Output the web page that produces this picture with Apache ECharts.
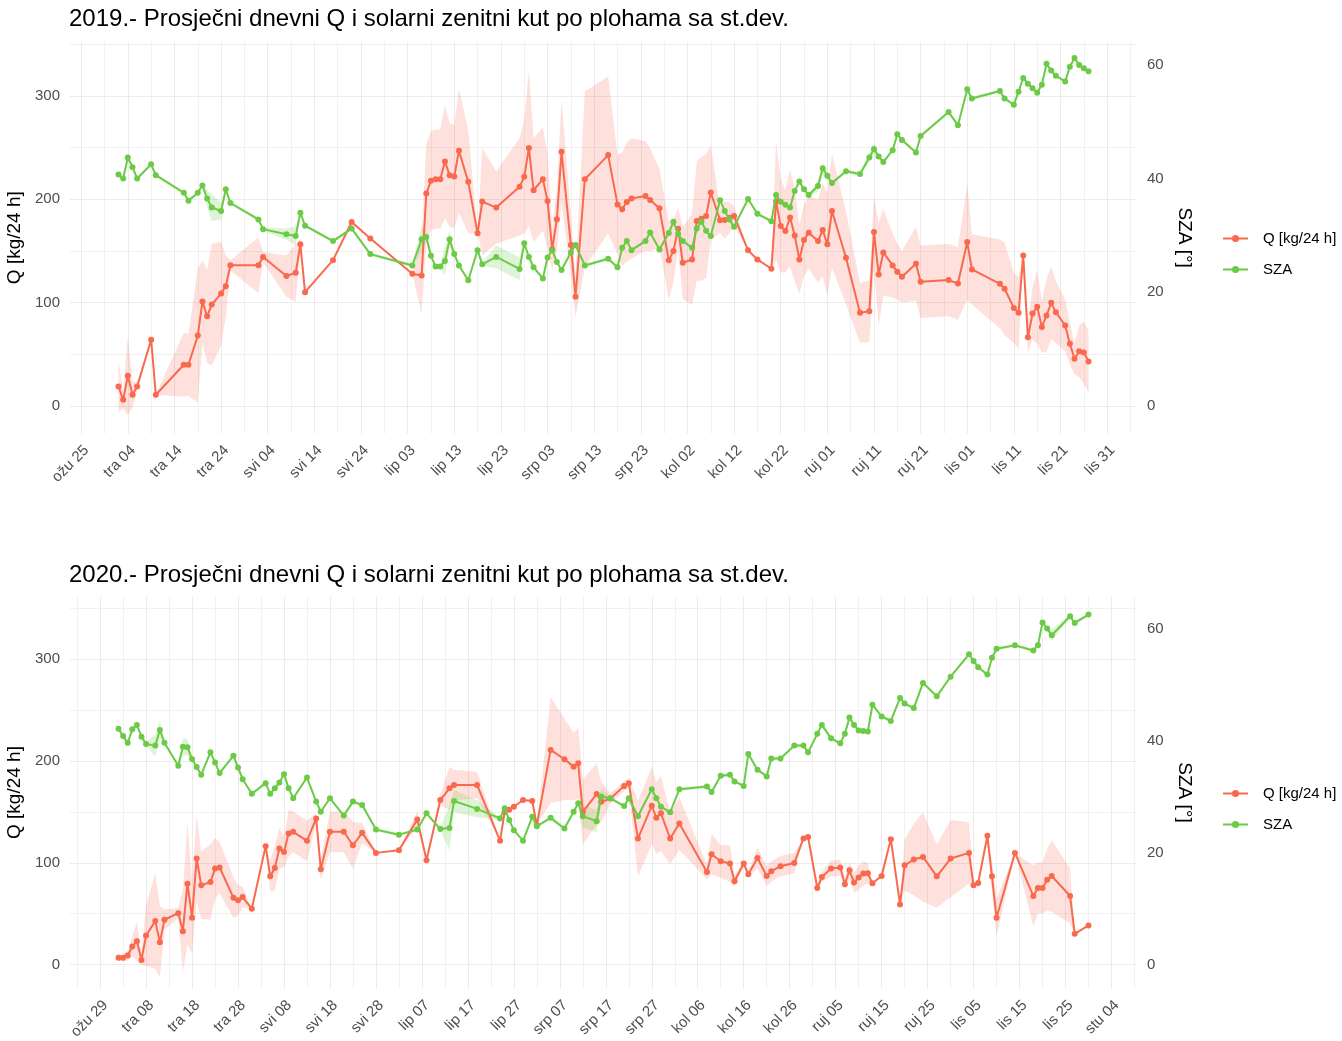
<!DOCTYPE html>
<html>
<head>
<meta charset="utf-8">
<title>Q i SZA po plohama</title>
<script src="https://cdn.jsdelivr.net/npm/echarts@6/dist/echarts.min.js"></script>
<style>
  html, body { margin: 0; padding: 0; background: #fff; }
  #chart { width: 1342px; height: 1041px; }
</style>
</head>
<body>
<div id="chart"></div>
<script>
// ---- 2019 (dates are MM-DD) ----
const dates2019 = ['04-02','04-03','04-04','04-05','04-06','04-09','04-10','04-16','04-17','04-19',
  '04-20','04-21','04-22','04-24','04-25','04-26','05-02','05-03','05-08','05-10',
  '05-11','05-12','05-18','05-22','05-26','06-04','06-06','06-07','06-08','06-09',
  '06-10','06-11','06-12','06-13','06-14','06-16','06-18','06-19','06-22','06-27',
  '06-28','06-29','06-30','07-02','07-03','07-04','07-05','07-06','07-08','07-09',
  '07-11','07-16','07-18','07-19','07-20','07-21','07-24','07-25','07-27','07-29',
  '07-30','07-31','08-01','08-03','08-04','08-05','08-06','08-07','08-09','08-10',
  '08-11','08-12','08-15','08-17','08-20','08-21','08-22','08-23','08-24','08-25',
  '08-26','08-27','08-28','08-30','08-31','09-01','09-02','09-05','09-08','09-10',
  '09-11','09-12','09-13','09-15','09-16','09-17','09-20','09-21','09-27','09-29',
  '10-01','10-02','10-08','10-09','10-11','10-12','10-13','10-14','10-15','10-16',
  '10-17','10-18','10-19','10-20','10-22','10-23','10-24','10-25','10-26','10-27']
const q2019 = [18.7, 5.8, 29, 10.7, 18.7, 64, 10.7, 39.8, 39.8, 68,
  101, 86.7, 98, 108.7, 115.8, 136, 136, 144, 125.6, 128.8,
  156.3, 110, 141, 178, 162, 127.8, 126.2, 205.5, 217.8, 219.4,
  219.4, 236.6, 223.3, 222, 247, 216.8, 167, 197.7, 191.9, 212,
  221.7, 249.5, 208.7, 219.4, 198.4, 151.5, 180.6, 246, 155.6, 105.5,
  219.4, 242.7, 195, 190.3, 197.4, 200.7, 203.2, 199.3, 191.3, 140.8,
  149.8, 171.5, 138.5, 141.7, 179, 181, 183.8, 206.5, 179.6, 180,
  182, 183.8, 150.5, 141.7, 132.7, 197.8, 174, 169.2, 182.2, 165,
  141.7, 160.5, 167.6, 159.5, 170.2, 156.3, 188.6, 143.4, 90, 91.6,
  168.3, 127.2, 148.5, 135.9, 129.8, 124.9, 137.6, 120.1, 121.7, 118.4,
  158.5, 132, 118.1, 113.3, 94.8, 90, 145.6, 66.3, 89.3, 95.8,
  76.4, 87.4, 99.7, 90.6, 77.7, 60.2, 45.6, 52.7, 51.7, 43]
const qSd2019 = [25, 8, 38, 12, 5, 0, 0, 31, 30, 65,
  40, 45, 59, 50, 30, 5, 27, 5, 20, 28,
  5, 0, 0, 0, 0, 0, 37, 48, 48, 48,
  48, 55, 50, 50, 60, 50, 0, 52, 35, 47,
  55, 75, 50, 50, 45, 20, 30, 50, 30, 20,
  85, 76, 48, 55, 58, 58, 53, 50, 38, 38,
  30, 20, 35, 44, 58, 60, 60, 46, 12, 18,
  15, 10, 0, 0, 0, 57, 45, 40, 47, 45,
  33, 35, 35, 40, 45, 50, 55, 45, 29, 30,
  35, 50, 42, 31, 27, 25, 36, 35, 35, 35,
  56, 34, 43, 45, 34, 35, 5, 15, 25, 36,
  25, 35, 35, 30, 25, 20, 15, 25, 30, 30]
const sza2019 = [40.7, 40.0, 43.7, 42.0, 40.0, 42.5, 40.6, 37.5, 36.1, 37.5,
  38.8, 36.5, 34.9, 34.3, 38.1, 35.7, 32.8, 31.1, 30.2, 29.9,
  34.0, 31.7, 29.0, 31.2, 26.7, 24.7, 29.3, 29.7, 26.4, 24.5,
  24.5, 25.5, 29.3, 26.7, 24.7, 22.1, 27.4, 24.9, 26.2, 24.1,
  28.6, 26.2, 24.4, 22.4, 26.1, 27.4, 25.3, 23.9, 27.0, 28.3,
  24.7, 25.9, 24.4, 27.8, 29.0, 27.4, 29.0, 30.5, 27.5, 30.4,
  32.4, 30.3, 29.0, 27.8, 31.2, 32.4, 30.8, 29.9, 36.2, 34.3,
  32.8, 31.5, 36.4, 33.8, 32.5, 37.1, 35.9, 35.4, 34.9, 37.8,
  39.5, 38.1, 37.1, 38.7, 41.8, 40.5, 39.2, 41.3, 40.8, 43.7,
  45.2, 43.9, 42.9, 45.0, 47.8, 46.8, 44.6, 47.5, 51.7, 49.4,
  55.7, 54.1, 55.4, 54.1, 53.0, 55.3, 57.7, 56.7, 55.9, 55.1,
  56.5, 60.2, 59.0, 58.1, 57.1, 59.7, 61.2, 60.0, 59.4, 58.9]
const szaSd2019 = [0.3, 0.3, 0.3, 0.3, 0.3, 0.3, 0.3, 0.3, 0.3, 0.3,
  0.3, 1.5, 2.4, 1.5, 0.3, 0.3, 0.3, 0.3, 1.0, 1.6,
  0.3, 0.3, 0.3, 0.3, 0.3, 0.3, 2.3, 1.0, 0.3, 0.3,
  0.3, 2.5, 1.5, 0.3, 0.3, 0.3, 0.3, 0.3, 2.0, 2.0,
  0.3, 0.3, 0.3, 0.3, 0.3, 0.3, 0.3, 0.3, 0.3, 0.3,
  0.3, 0.3, 0.3, 0.3, 0.3, 0.3, 0.3, 0.3, 0.3, 0.3,
  0.3, 0.3, 0.3, 0.3, 0.3, 0.3, 0.3, 0.3, 0.3, 0.3,
  0.3, 0.3, 0.3, 0.3, 0.3, 0.3, 0.3, 0.3, 0.3, 0.3,
  0.3, 0.3, 0.3, 1.0, 1.0, 0.8, 0.3, 0.3, 0.3, 0.8,
  0.8, 0.3, 0.3, 0.3, 0.3, 0.3, 0.3, 0.3, 0.3, 0.3,
  0.3, 0.3, 0.3, 0.3, 0.3, 0.3, 0.3, 0.3, 0.3, 0.3,
  0.3, 0.3, 0.3, 0.3, 0.3, 0.3, 0.3, 0.3, 0.3, 0.3]

// ---- 2020 ----
const dates2020 = ['04-02','04-03','04-04','04-05','04-06','04-07','04-08','04-10','04-11','04-12',
  '04-15','04-16','04-17','04-18','04-19','04-20','04-22','04-23','04-24','04-27',
  '04-28','04-29','05-01','05-04','05-05','05-06','05-07','05-08','05-09','05-10',
  '05-13','05-15','05-16','05-18','05-21','05-23','05-25','05-28','06-02','06-06',
  '06-08','06-11','06-13','06-14','06-19','06-24','06-25','06-26','06-27','06-29',
  '07-01','07-02','07-05','07-08','07-10','07-11','07-12','07-15','07-16','07-18',
  '07-21','07-22','07-24','07-27','07-28','07-29','07-31','08-02','08-08','08-09',
  '08-11','08-13','08-14','08-16','08-17','08-19','08-21','08-22','08-24','08-27',
  '08-29','08-30','09-01','09-02','09-04','09-06','09-07','09-08','09-09','09-10',
  '09-11','09-12','09-13','09-15','09-17','09-19','09-20','09-22','09-24','09-27',
  '09-30','10-04','10-05','10-06','10-08','10-09','10-10','10-14','10-18','10-19',
  '10-20','10-21','10-22','10-26','10-27','10-30']
const q2020 = [6.6, 6.6, 8.9, 17.7, 23, 4.6, 28.6, 42.7, 22, 44,
  50.5, 32.8, 79.5, 46, 104.1, 77.8, 81.1, 94.3, 95.3, 65.7,
  63.1, 66.3, 54.9, 116.3, 86.7, 94.9, 114, 110.6, 128.8, 130.4,
  121.5, 143.5, 93.6, 130.4, 130.4, 117.2, 129.4, 109.7, 112.3, 142.6,
  102.5, 161.6, 173.1, 176.4, 176.4, 121.5, 150, 152, 155, 161.6,
  160.6, 137, 210.8, 201.7, 194.4, 197.7, 150, 167.5, 159.9, 163,
  175.4, 178, 123.8, 156, 144.2, 148.5, 123.8, 138.6, 90.9, 108.4,
  101.5, 99.2, 81.8, 99.2, 88.7, 104.7, 87, 91.6, 96.6, 99.8,
  123.8, 125.4, 75.2, 86, 94.3, 95.3, 78.8, 92.6, 80.5, 85.4,
  89.4, 89.6, 79.8, 87, 123.2, 59.1, 97.5, 103.2, 105.7, 86.7,
  104.1, 109.7, 77.8, 80.1, 126.4, 86.7, 46, 109.7, 67.3, 75.2,
  75.2, 83.4, 87, 67.3, 30.2, 38.4]
const qSd2020 = [3, 3, 5, 10, 19, 5, 30, 47, 35, 10,
  5, 40, 60, 35, 43, 33, 37, 30, 25, 20,
  15, 10, 0, 0, 15, 22, 20, 15, 23, 20,
  20, 5, 10, 20, 20, 23, 10, 0, 0, 8,
  0, 5, 21, 15, 13, 0, 0, 0, 0, 0,
  0, 0, 52, 40, 33, 35, 32, 30, 20, 5,
  5, 5, 37, 38, 35, 37, 25, 26, 7, 20,
  16, 18, 5, 3, 3, 10, 10, 10, 10, 10,
  0, 0, 0, 5, 8, 8, 5, 8, 10, 12,
  12, 10, 0, 0, 0, 0, 25, 35, 44, 31,
  38, 30, 0, 0, 5, 15, 19, 0, 30, 25,
  25, 30, 35, 27, 0, 0]
const sza2020 = [42.1, 40.8, 39.6, 42.0, 42.8, 40.7, 39.4, 39.1, 41.9, 39.6,
  35.5, 38.9, 38.8, 36.7, 35.3, 33.9, 37.9, 36.1, 34.2, 37.3,
  35.2, 33.1, 30.5, 32.4, 30.5, 31.5, 32.5, 34.0, 31.5, 29.7,
  33.4, 29.1, 27.3, 29.7, 26.6, 29.1, 28.5, 24.1, 23.2, 24.1,
  27.0, 24.2, 24.4, 29.2, 27.8, 26.1, 27.9, 25.8, 24.0, 22.1,
  26.4, 24.7, 26.2, 24.3, 27.3, 28.8, 26.5, 25.6, 30.0, 29.7,
  28.3, 29.7, 26.5, 31.3, 29.7, 28.2, 27.2, 31.3, 31.8, 30.8,
  33.7, 33.9, 32.7, 31.9, 37.6, 34.8, 33.6, 36.8, 36.8, 39.1,
  39.1, 37.9, 41.2, 42.8, 40.4, 39.5, 41.2, 44.1, 42.8, 41.8,
  41.7, 41.6, 46.4, 44.3, 43.5, 47.6, 46.6, 45.8, 50.3, 47.9,
  51.4, 55.4, 54.2, 53.1, 51.8, 54.8, 56.4, 57.0, 56.1, 57.0,
  61.1, 60.0, 58.8, 62.2, 61.0, 62.5]
const szaSd2020 = [0.3, 0.3, 0.3, 0.3, 0.3, 0.3, 0.3, 2.0, 1.5, 0.3,
  0.3, 1.5, 1.5, 0.3, 0.3, 0.3, 0.3, 0.3, 0.3, 0.3,
  0.3, 0.3, 0.3, 0.3, 0.3, 0.3, 0.3, 0.3, 0.3, 0.3,
  0.3, 0.3, 0.3, 0.3, 0.3, 0.3, 0.3, 0.3, 0.3, 0.3,
  0.3, 0.3, 4.0, 2.0, 1.5, 0.3, 0.3, 0.3, 0.3, 0.3,
  0.3, 0.3, 0.3, 0.3, 0.3, 0.3, 2.0, 2.0, 1.5, 0.3,
  0.3, 0.3, 0.3, 0.3, 0.3, 0.3, 0.3, 0.3, 0.3, 0.3,
  0.3, 0.3, 0.3, 0.3, 0.3, 0.3, 0.3, 0.3, 0.3, 0.3,
  0.3, 0.3, 0.3, 0.3, 0.3, 0.3, 0.3, 0.3, 0.3, 0.3,
  0.3, 0.3, 0.3, 0.3, 0.3, 0.3, 0.3, 0.3, 0.3, 0.3,
  0.3, 0.3, 0.3, 0.3, 0.3, 0.3, 0.3, 0.3, 0.3, 0.3,
  0.3, 0.3, 1.0, 0.3, 0.3, 0.3]

const monthsHr = ['sij', 'velj', 'ožu', 'tra', 'svi', 'lip', 'srp', 'kol', 'ruj', 'lis', 'stu', 'pro']
const DAY = 86400000
const FONT = '"Liberation Sans", Arial, sans-serif'
const RED = '#F8694E'
const GREEN = '#6CCB46'

const panels = [
  { title: '2019.- Prosječni dnevni Q i solarni zenitni kut po plohama sa st.dev.', year: 2019, base: '03-25',
    dates: dates2019, q: q2019, qSd: qSd2019, sza: sza2019, szaSd: szaSd2019,
    qRange: [-27, 352.5], factor: 5.5, top: 41.7, titleTop: 7, legendTop: 231 },
  { title: '2020.- Prosječni dnevni Q i solarni zenitni kut po plohama sa st.dev.', year: 2020, base: '03-29',
    dates: dates2020, q: q2020, qSd: qSd2020, sza: sza2020, szaSd: szaSd2020,
    qRange: [-23.5, 361.5], factor: 5.5, top: 596.5, titleTop: 563, legendTop: 786 }
]

function baseTime(p) {
  const [m, d] = p.base.split('-').map(Number)
  return Date.UTC(p.year, m - 1, d)
}
function toDays(p, md) {
  const [m, d] = md.split('-').map(Number)
  return (Date.UTC(p.year, m - 1, d) - baseTime(p)) / DAY
}
function dayLabel(p, v) {
  const dt = new Date(baseTime(p) + v * DAY)
  return monthsHr[dt.getUTCMonth()] + ' ' + String(dt.getUTCDate()).padStart(2, '0')
}

const grid = [], xAxis = [], yAxis = [], series = [], title = [], legend = []

panels.forEach((p, i) => {
  const xs = p.dates.map(d => toDays(p, d))
  // ggplot-like 5% expansion of the date range
  const span = xs[xs.length - 1] - xs[0]
  const xMin = xs[0] - span * 0.05
  const xMax = xs[xs.length - 1] + span * 0.05
  const firstTick = Math.ceil(xMin / 5) * 5
  const gridColors = firstTick % 10 === 0 ? ['#EBEBEB', '#F1F1F1'] : ['#F1F1F1', '#EBEBEB']

  grid.push({ left: 70, width: 1067, top: p.top, height: 392, outerBoundsMode: 'none', containLabel: false })

  title.push({
    text: p.title, left: 69, top: p.titleTop, padding: 0,
    textStyle: { fontSize: 24, fontWeight: 'normal', color: '#000', fontFamily: FONT }
  })

  legend.push({
    data: ['Q [kg/24 h]', 'SZA'], orient: 'vertical', left: 1222, top: p.legendTop, padding: 0,
    itemWidth: 25, itemHeight: 9, itemGap: 16, selectedMode: false,
    textStyle: { fontSize: 15, color: '#000', fontFamily: FONT, padding: [0, 0, 0, 10] }
  })

  xAxis.push({
    gridIndex: i, type: 'value', min: xMin, max: xMax, minInterval: 5, maxInterval: 5,
    axisLine: { show: false }, axisTick: { show: false },
    axisLabel: {
      rotate: 45, margin: 9, fontSize: 15, color: '#4D4D4D', fontFamily: FONT, verticalAlign: 'top',
      showMinLabel: false, showMaxLabel: false,
      formatter: v => (Math.abs(v % 10) < 1e-6 ? dayLabel(p, v) : '')
    },
    splitLine: { show: true, showMinLine: false, showMaxLine: false, lineStyle: { color: gridColors, width: 1 } }
  })

  yAxis.push({
    gridIndex: i, type: 'value', position: 'left', min: p.qRange[0], max: p.qRange[1],
    minInterval: 50, maxInterval: 50,
    name: 'Q [kg/24 h]', nameLocation: 'middle', nameRotate: 90, nameGap: 40,
    nameTextStyle: { fontSize: 19, color: '#000', fontFamily: FONT },
    axisLine: { show: false }, axisTick: { show: false },
    axisLabel: {
      margin: 10, fontSize: 15, color: '#4D4D4D', fontFamily: FONT,
      showMinLabel: false, showMaxLabel: false,
      formatter: v => (Math.abs(v % 100) < 1e-6 ? String(v) : '')
    },
    splitLine: { show: true, showMinLine: false, showMaxLine: false, lineStyle: { color: ['#EBEBEB', '#F1F1F1'], width: 1 } }
  })
  yAxis.push({
    gridIndex: i, type: 'value', position: 'right',
    min: p.qRange[0] / p.factor, max: p.qRange[1] / p.factor, minInterval: 20, maxInterval: 20,
    name: 'SZA [°]', nameLocation: 'middle', nameRotate: -90, nameGap: 33,
    nameTextStyle: { fontSize: 19, color: '#000', fontFamily: FONT },
    axisLine: { show: false }, axisTick: { show: false },
    axisLabel: {
      margin: 10, fontSize: 15, color: '#4D4D4D', fontFamily: FONT,
      showMinLabel: false, showMaxLabel: false,
      formatter: v => (Math.abs(v % 20) < 1e-6 ? String(v) : '')
    },
    splitLine: { show: false }
  })

  // mean ± sd ribbon, drawn as one polygon through the axis scales
  const ribbon = (yIdx, mean, sd, color) => {
    const lo = mean.map((m, k) => m - sd[k])
    const hi = mean.map((m, k) => m + sd[k])
    return {
      type: 'custom', xAxisIndex: i, yAxisIndex: yIdx, silent: true, z: 1,
      data: xs.map((x, k) => [x, lo[k], hi[k]]),
      encode: { x: 0, y: [1, 2] },
      renderItem: (params, api) => {
        if (params.dataIndex !== 0) return null
        const upper = xs.map((x, k) => api.coord([x, hi[k]]))
        const lower = xs.map((x, k) => api.coord([x, lo[k]])).reverse()
        return { type: 'polygon', shape: { points: upper.concat(lower) }, style: { fill: color } }
      }
    }
  }

  series.push(ribbon(2 * i, p.q, p.qSd, 'rgba(248,105,78,0.2)'))
  series.push(ribbon(2 * i + 1, p.sza, p.szaSd, 'rgba(108,203,70,0.22)'))

  series.push({
    name: 'Q [kg/24 h]', type: 'line', xAxisIndex: i, yAxisIndex: 2 * i,
    symbol: 'circle', symbolSize: 6, z: 3,
    itemStyle: { color: RED }, lineStyle: { color: RED, width: 2 },
    data: xs.map((x, k) => [x, p.q[k]])
  })
  series.push({
    name: 'SZA', type: 'line', xAxisIndex: i, yAxisIndex: 2 * i + 1,
    symbol: 'circle', symbolSize: 6, z: 4,
    itemStyle: { color: GREEN }, lineStyle: { color: GREEN, width: 2 },
    data: xs.map((x, k) => [x, p.sza[k]])
  })
})

const chart = echarts.init(document.getElementById('chart'))
chart.setOption({
  animation: false,
  backgroundColor: '#fff',
  textStyle: { fontFamily: FONT },
  title, legend, grid, xAxis, yAxis, series
})
</script>
</body>
</html>
